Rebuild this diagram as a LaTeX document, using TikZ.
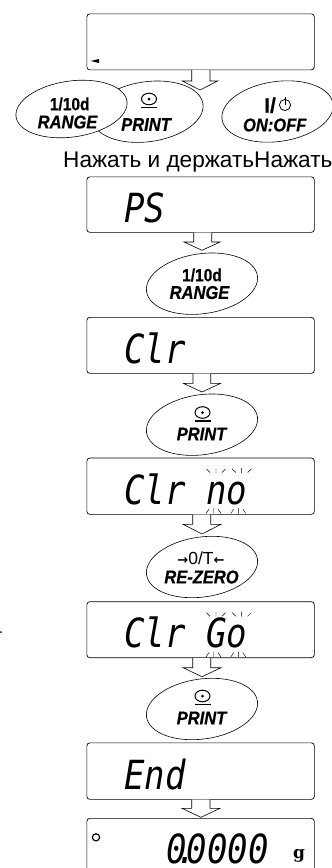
\documentclass[tikz,border=0pt]{standalone}
\usepackage{fontspec}
\setmainfont{Liberation Sans}[BoldFeatures={FakeBold=0.6},BoldItalicFeatures={FakeBold=0.6}]
\newfontfamily\lcdfont{DejaVu Sans Mono}[ItalicFont={DejaVu Sans Mono Oblique}]
\newfontfamily\unitfont{DejaVu Serif}
\newfontfamily\symfont{DejaVu Sans}
\usetikzlibrary{shapes.geometric,calc}
\tikzset{
  panel/.style={draw,rounded corners=3pt,line width=0.7pt,fill=white},
  btn/.style={draw,ellipse,fill=white,line width=0.6pt,inner sep=0pt,minimum width=112pt,minimum height=60pt,rotate=8},
  keytop/.style={font=\fontsize{15.5}{16}\selectfont\bfseries,inner sep=0pt,yscale=1.14,transform shape},
  keybot/.style={font=\fontsize{16.5}{17}\selectfont\bfseries\itshape,inner sep=0pt,yscale=1.12,transform shape},
  lcd/.style={font=\fontsize{34}{34}\selectfont\lcdfont\itshape,inner sep=0pt,anchor=base west,yscale=1.18,transform shape},
  blink/.style={line width=0.45pt},
  barrow/.style={draw,fill=white,line width=0.6pt,line join=miter}
}
\newcommand{\panelbox}[3]{%
  \node[panel,anchor=north west,minimum width=227.5pt,minimum height=#3pt-#2pt,inner sep=0pt] (#1) at (86.5,#2) {};}
\newcommand{\blockarrow}[7]{%
  \draw[barrow] (#1.south -| {#2,0}) -- (#2,#4) -- (#5,#4) -- (#6,#7)  -- (2*#6-#5,#4) -- (#3,#4) -- (#1.south -| {#3,0});}
\newcommand{\printicon}[2]{%
  \draw[line width=1pt] (#1,#2) ellipse [x radius=7.5pt,y radius=5.8pt];
  \fill (#1,#2) circle (1.5pt);
  \draw[line width=1.5pt] (#1-8,#2+8.5) -- (#1+8,#2+8.5);}
% #1 top of the ticks above, #2 top of the ticks below
\newcommand{\blinks}[2]{%
  \foreach \gx in {216,241.7}{
    \draw[blink] (\gx-9.5,#1+1) -- (\gx-6,#1+4.5) (\gx,#1) -- (\gx,#1+5) (\gx+9.5,#1+1) -- (\gx+6,#1+4.5);}
  \foreach \gx in {213.5,238.3}{
    \draw[blink] (\gx-7.5,#2+5.5) -- (\gx-4.5,#2+1) (\gx,#2) -- (\gx,#2+5.5) (\gx+7.5,#2+5.5) -- (\gx+4.5,#2+1);}}
\begin{document}
\begin{tikzpicture}[x=1pt,y=-1pt]
\useasboundingbox (0,0) rectangle (332,868);
\fill[white] (0,0) rectangle (332,868);
\panelbox{p0}{13.5}{69.5}
\panelbox{p1}{176.5}{232}
\panelbox{p2}{317}{373}
\panelbox{p3}{457.7}{514}
\panelbox{p4}{601.3}{657.3}
\panelbox{p5}{742.5}{799}
\begin{scope}
\clip (0,0) rectangle (332,868);
\panelbox{p6}{818}{880}
\end{scope}
\blockarrow{p0}{191.7}{210}{81}{182.3}{200}{90}
\blockarrow{p1}{193.7}{211.7}{242}{184}{202}{250.3}
\blockarrow{p2}{193}{210.7}{383.3}{183.3}{202}{392}
\blockarrow{p3}{192.7}{210.7}{524.3}{183}{202}{534}
\blockarrow{p4}{192.7}{210.7}{667.7}{183}{202}{676.7}
\blockarrow{p5}{191.7}{210}{808.3}{182}{201}{817.3}
% buttons
\node[btn] (bprint) at (147.5,111.7) {};
\node[btn,minimum height=56pt] (brange) at (71.5,109) {};
\node[btn] (bonoff) at (277.5,111.5) {};
\node[btn] (brange2) at (202,283.7) {};
\node[btn] (bprint2) at (202,424.7) {};
\node[btn] (bzero) at (202,567) {};
\node[btn] (bprint3) at (202,709) {};
% key labels
\node[keytop] (t1) at (69.7,104) {1/10d};
\node[keybot] (t2) at (67.5,122) {RANGE};
\printicon{149}{99}
\node[keybot] (t3) at (146,124.5) {PRINT};
\node[inner sep=0pt,anchor=base west,font=\fontsize{21}{21}\selectfont\bfseries] (t4) at (264,112.7) {I/};
\draw[line width=0.8pt] (285,105) circle (5.6pt);
\draw[line width=0.9pt] (285,96.5) -- (285,105);
\node[keybot] (t5) at (274.7,125) {ON:OFF};
\node[keytop] (t6) at (202,275) {1/10d};
\node[keybot] (t7) at (199.5,292.5) {RANGE};
\printicon{202.5}{412.5}
\node[keybot] (t8) at (201.5,434) {PRINT};
\node[inner sep=0pt,font=\fontsize{17.5}{18}\selectfont] (t9) at (201,558) {{\symfont\fontsize{13}{13}\selectfont\bfseries →}0/T{\symfont\fontsize{13}{13}\selectfont\bfseries ←}};
\node[keybot] (t10) at (201.5,577) {RE-ZERO};
\printicon{202.5}{696}
\node[keybot] (t11) at (201.5,718) {PRINT};
% caption
\node[inner sep=0pt,anchor=base west,font=\fontsize{22.6}{23}\selectfont] (cap) at (63,167.7) {Нажать и держатьНажать};
% displays
\fill (90.7,61) -- (99,59) -- (99,63) -- cycle;
\node[lcd] (d1) at (124,222) {PS};
\node[lcd] (d2) at (124,363) {Clr};
\node[lcd] (d3) at (124,504) {Clr no};
\node[lcd] (d4) at (124,647.5) {Clr Go};
\node[lcd] (d5) at (124,789) {End};
\node[lcd] (d6) at (166,863.5) {0\kern-10.2pt.\kern-10.2pt0000};
\blinks{468}{508}
\blinks{611.7}{651.5}
\draw[line width=1.2pt] (96,837.3) circle (3.6pt);
\node[inner sep=0pt,anchor=base,font=\fontsize{17}{17}\selectfont\unitfont\bfseries] (unit) at (299,858) {g};
\fill (1,632) circle (1pt);
\end{tikzpicture}
\end{document}
